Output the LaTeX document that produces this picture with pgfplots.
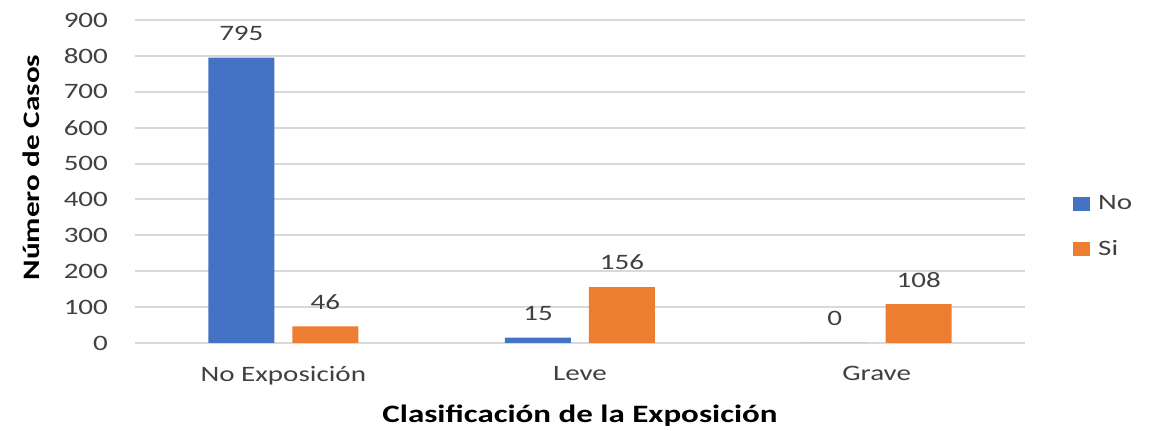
\documentclass[border=0pt]{standalone}
\usepackage{fontspec}
\setmainfont{Carlito}[FakeStretch=1.32]
\usepackage{pgfplots}
\pgfplotsset{compat=1.18}
\definecolor{cblue}{HTML}{4472C4}
\definecolor{corange}{HTML}{ED7D31}
\definecolor{gridc}{HTML}{D9D9D9}
\definecolor{txt}{HTML}{404040}
\begin{document}
\begin{tikzpicture}
\begin{axis}[
  scale only axis,
  width=445pt, height=161.5pt,
  at={(0,0)}, anchor=south west,
  xmin=-0.5, xmax=2.5,
  ymin=0, ymax=900,
  ytick={0,100,...,900},
  xtick={0,1,2},
  xticklabels={No Exposición, Leve, Grave},
  ybar, bar width=33pt,
  axis x line*=bottom, axis y line*=left,
  x axis line style={gridc, line width=1pt, -},
  y axis line style={draw=none},
  ymajorgrids, grid style={gridc, line width=1pt},
  major tick length=0pt,
  /pgf/number format/assume math mode=true,
  tick label style={font=\fontsize{11}{13}\selectfont, text=txt},
  yticklabel style={xshift=-10pt},
  xticklabel style={yshift=-8pt},
  every axis y label/.style={at={(ticklabel cs:0.5)}, rotate=90, anchor=south, yshift=5pt, xshift=7pt,
    font=\fontsize{11.8}{14}\selectfont, text=black},
  ylabel={\textbf{Número de Casos}},
  xlabel={\textbf{Clasificación de la Exposición}},
  xlabel style={font=\fontsize{12.5}{14}\selectfont, text=black, yshift=-3pt},
  nodes near coords,
  nodes near coords style={font=\fontsize{11}{13}\selectfont, text=txt, yshift=5pt},
  legend style={draw=none, fill=none, at={(rel axis cs:1.047,0.36)}, anchor=west,
    font=\fontsize{11}{13}\selectfont, text=txt, row sep=10pt,
    nodes={inner xsep=4pt}},
  legend cell align=left,
  legend image code/.code={\fill[#1] (0pt,-3.5pt) rectangle (8.5pt,3.5pt);},
  clip=false,
]
\addplot[fill=cblue, draw=none, bar shift=-21pt] coordinates {(0,795) (1,15) (2,0)};
\addplot[fill=corange, draw=none, bar shift=21pt] coordinates {(0,46) (1,156) (2,108)};
\legend{No, Si}
\end{axis}
\pgfresetboundingbox
\path[use as bounding box] (-67.5pt,-44pt) rectangle (511.5pt,171.5pt);
\end{tikzpicture}
\end{document}
